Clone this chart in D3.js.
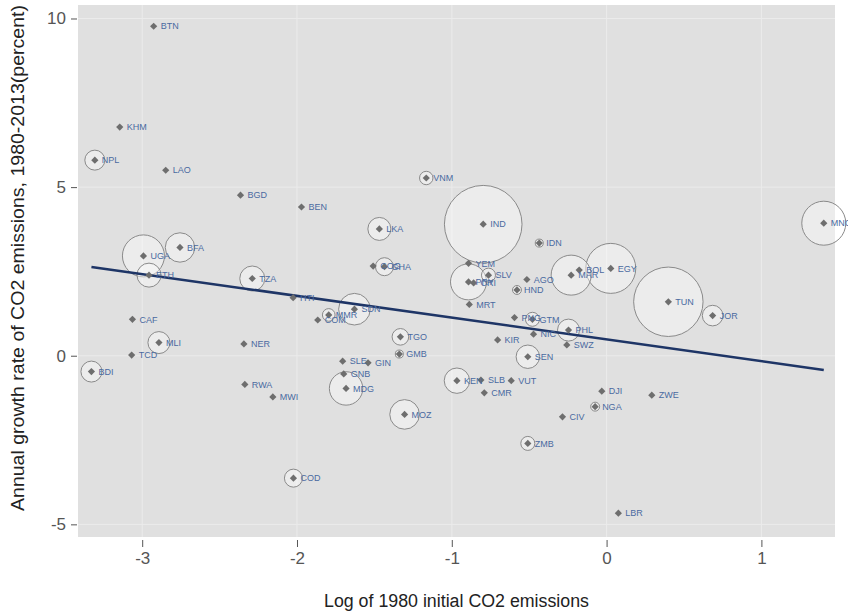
<!DOCTYPE html>
<html>
<head>
<meta charset="utf-8">
<script src="https://cdn.jsdelivr.net/npm/d3@7/dist/d3.min.js"></script>
<style>
  html, body { margin: 0; padding: 0; background: #ffffff; }
  svg { display: block; }
</style>
</head>
<body>
<svg id="chart" width="848" height="614"></svg>
<script>
// Country codes
const countries = ["BTN","KHM","NPL","LAO","BGD","BEN","VNM","IND","LKA","IDN","MNG",
  "UGA","BFA","ETH","TZA","HTI","COG","GHA","YEM","SLV","PRY","CRI","AGO","HND","MRT",
  "BOL","MAR","EGY","TUN","JOR","PNG","GTM","NIC","PHL","SWZ","KIR","SEN","KEN","SLB",
  "VUT","CMR","ZMB","CIV","NGA","DJI","ZWE","LBR","TGO","GMB","SLE","GIN","GNB","MDG",
  "MOZ","COD","MMR","SDN","COM","CAF","MLI","TCD","NER","BDI","RWA","MWI"];

// Log of 1980 initial CO2 emissions
const logCO2_1980 = [-2.926,-3.145,-3.306,-2.848,-2.365,-1.971,-1.165,-0.797,-1.468,-0.435,1.403,
  -2.992,-2.756,-2.956,-2.289,-2.025,-1.508,-1.435,-0.892,-0.763,-0.892,-0.859,-0.515,-0.579,-0.887,
  -0.177,-0.229,0.027,0.399,0.685,-0.595,-0.479,-0.472,-0.246,-0.257,-0.704,-0.509,-0.967,-0.812,
  -0.616,-0.790,-0.509,-0.285,-0.074,-0.031,0.292,0.076,-1.332,-1.339,-1.705,-1.541,-1.698,-1.683,
  -1.305,-2.023,-1.795,-1.629,-1.866,-3.063,-2.892,-3.068,-2.343,-3.328,-2.337,-2.156];

// Annual growth rate of CO2 emissions, 1980-2013 (percent)
const growthRate = [9.77,6.78,5.80,5.50,4.76,4.41,5.27,3.90,3.76,3.34,3.93,
  2.96,3.21,2.39,2.29,1.72,2.66,2.64,2.74,2.39,2.19,2.16,2.26,1.95,1.52,
  2.54,2.39,2.59,1.60,1.19,1.13,1.08,0.64,0.76,0.32,0.47,-0.03,-0.74,-0.72,
  -0.74,-1.10,-2.60,-1.81,-1.51,-1.05,-1.17,-4.67,0.56,0.05,-0.16,-0.21,-0.54,-0.97,
  -1.74,-3.63,1.21,1.38,1.06,1.08,0.39,0.02,0.35,-0.47,-0.85,-1.22];

// Bubble weight (0 = no bubble drawn)
const weight = [0,0,100,0,0,0,45,1505,132,16,484,
  441,216,144,156,0,0,81,0,49,324,0,0,20,0,
  0,400,625,1204,106,0,49,0,121,0,0,137,161,0,
  0,0,49,0,20,0,0,0,69,16,0,0,0,279,
  219,81,40,250,0,0,121,0,0,110,0,0];

// Fitted regression line end points
const fitX = [-3.328, 1.403];
const fitY = [2.63, -0.42];

const xTicks = [-3, -2, -1, 0, 1];
const yTicks = [-5, 0, 5, 10];

const xTitle = "Log of 1980 initial CO2 emissions";
const yTitle = "Annual growth rate of CO2 emissions, 1980-2013(percent)";

const data = countries.map((c, i) => ({
  code: c, x: logCO2_1980[i], y: growthRate[i], w: weight[i]
}));

const svg = d3.select("#chart");
const panel = { left: 78, right: 835, top: 5, bottom: 537 };

const x = d3.scaleLinear().domain([-3.4147, 1.4755]).range([panel.left, panel.right]);
const y = d3.scaleLinear().domain([-5.375, 10.40]).range([panel.bottom, panel.top]);
const r = d3.scaleSqrt().domain([0, 1505]).range([0, 38.8]);

// Plot background
svg.append("rect")
  .attr("x", panel.left).attr("y", panel.top)
  .attr("width", panel.right - panel.left)
  .attr("height", panel.bottom - panel.top)
  .attr("fill", "#e0e0e0");

// Grid lines
const grid = svg.append("g");
grid.selectAll("line.vx").data(xTicks).join("line")
  .attr("x1", d => x(d)).attr("x2", d => x(d))
  .attr("y1", panel.top).attr("y2", panel.bottom)
  .attr("stroke", "#ebebeb").attr("stroke-width", 1);
grid.selectAll("line.hy").data(yTicks).join("line")
  .attr("y1", d => y(d)).attr("y2", d => y(d))
  .attr("x1", panel.left).attr("x2", panel.right)
  .attr("stroke", "#ebebeb").attr("stroke-width", 1);

// Axes
const fontFam = "'Liberation Sans', Arial, sans-serif";
const plainFormat = d => String(d);
const xAxis = d3.axisBottom(x).tickValues(xTicks).tickSize(7).tickPadding(5)
  .tickFormat(plainFormat);
const gx = svg.append("g").attr("transform", `translate(0,${panel.bottom + 3})`).call(xAxis);
gx.select(".domain").remove();
gx.selectAll(".tick line").attr("stroke", "#555");
gx.selectAll(".tick text").attr("fill", "#555").attr("font-size", 17)
  .attr("font-family", fontFam);

const yAxis = d3.axisLeft(y).tickValues(yTicks).tickSize(6).tickPadding(5)
  .tickFormat(plainFormat);
const gy = svg.append("g").attr("transform", `translate(${panel.left - 1},0)`).call(yAxis);
gy.select(".domain").remove();
gy.selectAll(".tick line").attr("stroke", "#555");
gy.selectAll(".tick text").attr("fill", "#555").attr("font-size", 17)
  .attr("font-family", fontFam);

// Bubbles
const bubbles = data.filter(d => d.w > 0).sort((a, b) => b.w - a.w);
svg.append("g").selectAll("circle").data(bubbles).join("circle")
  .attr("cx", d => x(d.x)).attr("cy", d => y(d.y)).attr("r", d => r(d.w))
  .attr("fill", "rgba(255,255,255,0.4)")
  .attr("stroke", "#8a8a8a").attr("stroke-width", 1);

// Regression line
svg.append("line")
  .attr("x1", x(fitX[0])).attr("y1", y(fitY[0]))
  .attr("x2", x(fitX[1])).attr("y2", y(fitY[1]))
  .attr("stroke", "#1e3566").attr("stroke-width", 2.5);

// Markers (square diamonds)
svg.append("g").selectAll("path").data(data).join("path")
  .attr("transform", d => `translate(${x(d.x)},${y(d.y)}) rotate(45)`)
  .attr("d", d3.symbol(d3.symbolSquare, 26))
  .attr("fill", "#6e6e6e");

// Country labels
svg.append("g").selectAll("text").data(data).join("text")
  .attr("x", d => x(d.x) + 7).attr("y", d => y(d.y))
  .attr("dy", "0.36em")
  .attr("font-family", fontFam).attr("font-size", 9)
  .attr("fill", "#4a6aa0")
  .text(d => d.code);

// Axis titles
svg.append("text")
  .attr("x", (panel.left + panel.right) / 2).attr("y", 607)
  .attr("text-anchor", "middle")
  .attr("font-family", fontFam).attr("font-size", 18).attr("fill", "#222")
  .attr("textLength", 265).attr("lengthAdjust", "spacingAndGlyphs")
  .text(xTitle);

svg.append("text")
  .attr("transform", "translate(24,258) rotate(-90)")
  .attr("text-anchor", "middle")
  .attr("font-family", fontFam).attr("font-size", 18).attr("fill", "#222")
  .attr("textLength", 506).attr("lengthAdjust", "spacingAndGlyphs")
  .text(yTitle);
</script>
</body>
</html>
